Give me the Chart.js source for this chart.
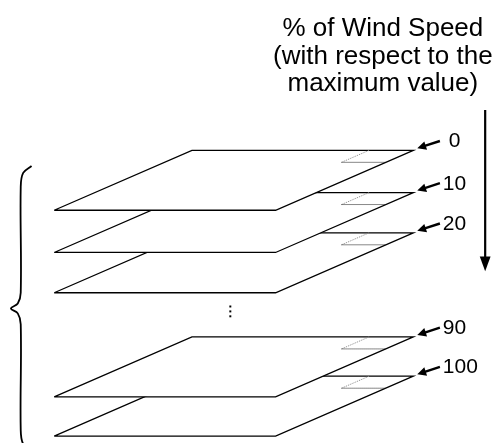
<!DOCTYPE html>
<html>
<head>
<meta charset="utf-8">
<script src="https://cdn.jsdelivr.net/npm/chart.js@4/dist/chart.umd.min.js"></script>
<style>
  html, body { margin: 0; padding: 0; background: #fff; }
  #wrap { width: 500px; height: 447px; position: relative; }
</style>
</head>
<body>
<div id="wrap"><canvas id="chart"></canvas></div>
<script>
// levels (% of max wind speed) and the y of each plane's back edge
const levels = ["0", "10", "20", "90", "100"];
const planeTops = [149, 192, 233, 339, 379];
const titleLines = ["% of Wind Speed", "(with respect to the", "maximum value)"];
const ellipsisY = [308, 313, 318];

// plane shape (skewed rectangle seen in perspective)
const PL = { left: 51, width: 225, skew: 140, depth: 61 };
const FONT = "'Liberation Sans', Arial, sans-serif";

function onPlane(top, u, v) {
  return { x: PL.left + PL.skew + PL.width * u - PL.skew * v, y: top + PL.depth * v };
}

function planeShape(top) {
  return [onPlane(top, 0, 1), onPlane(top, 0, 0), onPlane(top, 1, 0), onPlane(top, 1, 1), onPlane(top, 0, 1)];
}

function cornerShape(top) {
  return [onPlane(top, 0.8, 0), onPlane(top, 0.8, 0.2), onPlane(top, 1, 0.2)];
}

function arrowHead(tip, tail, len, half) {
  const dx = tip.x - tail.x, dy = tip.y - tail.y;
  const d = Math.hypot(dx, dy);
  const ux = dx / d, uy = dy / d;
  const bx = tip.x - ux * len, by = tip.y - uy * len;
  return [
    tip,
    { x: bx - uy * half, y: by + ux * half },
    { x: bx + uy * half, y: by - ux * half },
    tip
  ];
}

function arrowSets(tail, tip, len, half, width) {
  const d = Math.hypot(tip.x - tail.x, tip.y - tail.y);
  const k = (d - len + 1) / d;
  const end = { x: tail.x + (tip.x - tail.x) * k, y: tail.y + (tip.y - tail.y) * k };
  return [
    { data: [tail, end], borderColor: "#000", borderWidth: width, pointRadius: 0, fill: false, order: 0 },
    { data: arrowHead(tip, tail, len, half), borderWidth: 0, backgroundColor: "#000", pointRadius: 0, fill: "shape", order: 0 }
  ];
}

const datasets = [];

planeTops.forEach((top, i) => {
  datasets.push({
    data: planeShape(top),
    borderColor: "#000",
    borderWidth: 1.3,
    backgroundColor: "#fff",
    fill: "shape",
    pointRadius: 0,
    order: 2 * i + 2
  });
  datasets.push({
    data: cornerShape(top),
    borderColor: "#000",
    borderWidth: 1,
    borderDash: [1, 1],
    fill: false,
    pointRadius: 0,
    segment: { borderColor: (c) => (c.p0DataIndex === 0 ? "#8a8a8a" : "#111") },
    order: 2 * i + 1
  });
  datasets.push(...arrowSets({ x: 443, y: top - 9.5 }, { x: 420, y: top - 2 }, 9, 4.5, 2.4));
});

// big downward arrow
datasets.push(...arrowSets({ x: 489, y: 108 }, { x: 489, y: 272 }, 15, 5.5, 2.2));

// curly brace on the left
datasets.push({
  data: [
    { x: 28, y: 165 }, { x: 19.5, y: 172 }, { x: 17, y: 186 }, { x: 17, y: 294 },
    { x: 14, y: 305 }, { x: 7, y: 310 }, { x: 14, y: 315 }, { x: 17, y: 326 },
    { x: 17, y: 434 }, { x: 19.5, y: 448 }, { x: 28, y: 455 }
  ],
  borderColor: "#000",
  borderWidth: 1.8,
  tension: 0.35,
  fill: false,
  pointRadius: 0,
  order: 0
});

// vertical ellipsis
datasets.push({
  data: ellipsisY.map((y) => ({ x: 230, y: y })),
  showLine: false,
  pointStyle: "rect",
  pointRadius: 1.4,
  pointBackgroundColor: "#000",
  pointBorderWidth: 0,
  order: 0
});

const textPlugin = {
  id: "texts",
  afterDraw(chart) {
    const { ctx } = chart;
    const xs = chart.scales.x, ys = chart.scales.y;
    ctx.save();
    ctx.fillStyle = "#000";
    ctx.textBaseline = "alphabetic";
    ctx.font = "26px " + FONT;
    ctx.textAlign = "center";
    titleLines.forEach((t, i) => {
      ctx.fillText(t, xs.getPixelForValue(385), ys.getPixelForValue(33 + i * 28));
    });
    ctx.font = "21px " + FONT;
    ctx.textAlign = "left";
    levels.forEach((lab, i) => {
      // single digit label sits a bit further right, like in the original
      const txt = lab.length === 1 ? " " + lab : lab;
      ctx.fillText(txt, xs.getPixelForValue(446), ys.getPixelForValue(planeTops[i] - 3));
    });
    ctx.restore();
  }
};

new Chart(document.getElementById("chart"), {
  type: "line",
  data: { datasets: datasets },
  options: {
    responsive: true,
    maintainAspectRatio: false,
    animation: false,
    events: [],
    layout: { padding: 0 },
    elements: { line: { borderJoinStyle: "miter", borderCapStyle: "butt" } },
    scales: {
      x: { type: "linear", min: 0, max: 500, display: false },
      y: { type: "linear", min: 0, max: 447, reverse: true, display: false }
    },
    plugins: {
      legend: { display: false },
      tooltip: { enabled: false }
    }
  },
  plugins: [textPlugin]
});
</script>
</body>
</html>
